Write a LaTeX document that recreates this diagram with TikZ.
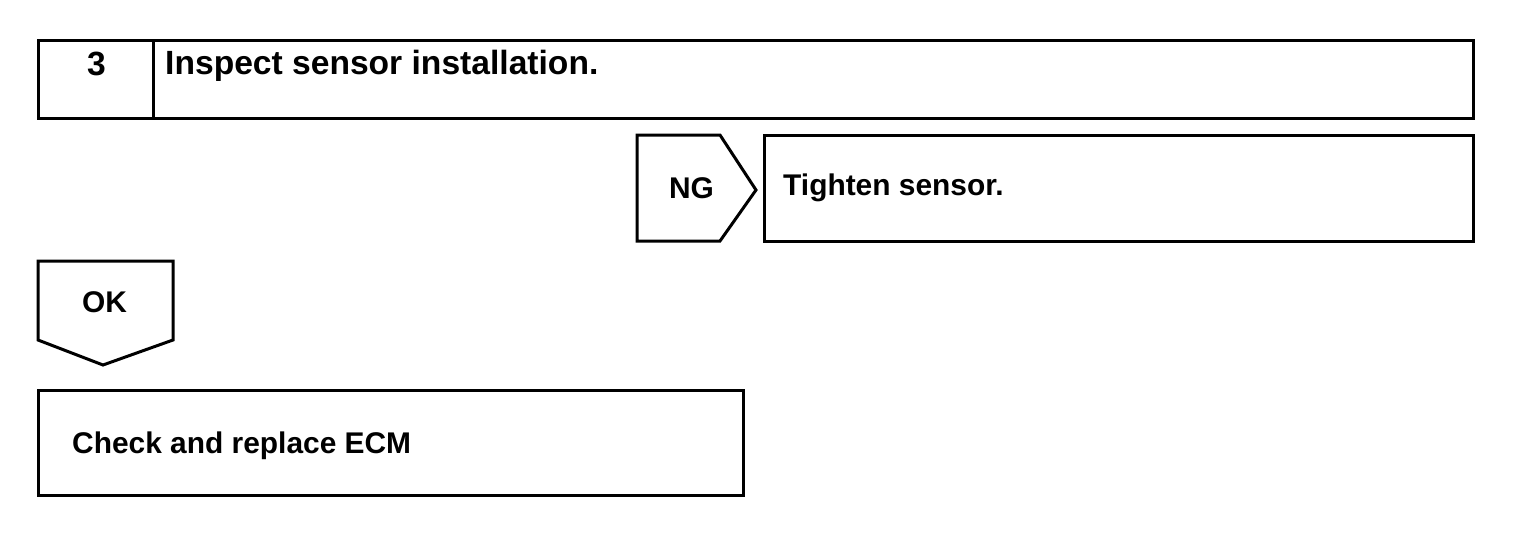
\documentclass[tikz,border=0pt]{standalone}
\usepackage{fontspec}
\setmainfont{Liberation Sans}
\usetikzlibrary{positioning}

\begin{document}
\begin{tikzpicture}[x=1pt,y=-1pt]
        % Stili per riquadri e testi
        \tikzset{riquadro/.style={draw, line width=3pt, line join=miter},
                 testo/.style={inner sep=0pt, font=\bfseries\fontsize{29.9}{30}\selectfont},
                 titolo/.style={testo, font=\bfseries\fontsize{33.6}{34}\selectfont}}
        \useasboundingbox (0,0) rectangle (1536,552);

        % Passo 3
        \draw[riquadro] (38,40) rectangle (1473,118);
        \draw[riquadro] (153,40) -- (153,118);
        \node (numero) at (96.5,75) [titolo, anchor=base]{3};
        \node (ispezione) at (165,74) [titolo, anchor=base west]{Inspect sensor installation.};

        % Ramo NG
        \draw[riquadro] (637,135) -- (720,135) -- (756,190) -- (720,241) -- (637,241) -- cycle;
        \node (ng) at (691.5,198) [testo, anchor=base]{NG};
        \draw[riquadro] (764,135) rectangle (1473,241);
        \node (serraggio) at (783,195) [testo, anchor=base west]{Tighten sensor.};

        % Ramo OK
        \draw[riquadro] (38,261) -- (173,261) -- (173,340) -- (103,365) -- (38,340) -- cycle;
        \node (ok) at (104.5,312) [testo, anchor=base]{OK};
        \draw[riquadro] (38,390) rectangle (743,495);
        \node (ecm) at (72,453) [testo, anchor=base west]{Check and replace ECM};
    \end{tikzpicture}
\end{document}
